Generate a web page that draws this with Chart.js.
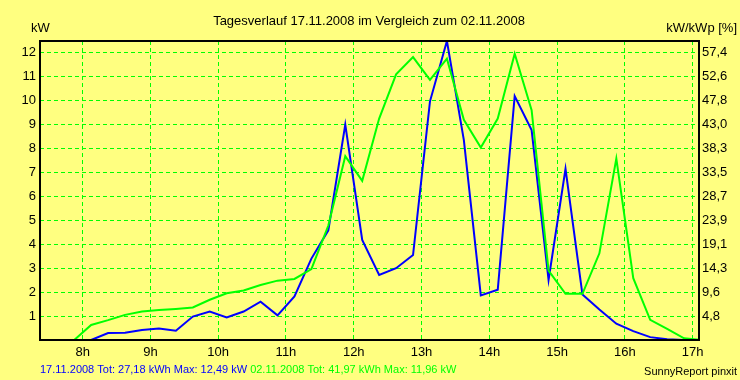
<!DOCTYPE html>
<html>
<head>
<meta charset="utf-8">
<script src="https://cdn.jsdelivr.net/npm/chart.js@4/dist/chart.umd.min.js"></script>
<style>
  html, body { margin: 0; padding: 0; background: #ffff80; }
  canvas { display: block; background: #ffff80; }
</style>
</head>
<body>
<canvas id="c" width="740" height="380"></canvas>
<script>
// ---- data ----
const hours = [7.375, 7.625, 7.875, 8.125, 8.375, 8.625, 8.875, 9.125, 9.375, 9.625,
               9.875, 10.125, 10.375, 10.625, 10.875, 11.125, 11.375, 11.625, 11.875, 12.125,
               12.375, 12.625, 12.875, 13.125, 13.375, 13.625, 13.875, 14.125, 14.375, 14.625,
               14.875, 15.125, 15.375, 15.625, 15.875, 16.125, 16.375, 16.625, 16.875, 17.125];
const kw_17_11 = [0, 0, 0, 0, 0.29, 0.30, 0.42, 0.48, 0.39, 0.98,
                  1.19, 0.94, 1.19, 1.60, 1.03, 1.82, 3.40, 4.58, 9.00, 4.18,
                  2.72, 3.00, 3.55, 9.97, 12.49, 8.35, 1.86, 2.10, 10.19, 8.77,
                  2.51, 7.15, 1.90, 1.27, 0.68, 0.37, 0.12, 0.03, 0, 0];
const kw_02_11 = [0, 0, 0, 0.63, 0.83, 1.05, 1.19, 1.25, 1.30, 1.36,
                  1.68, 1.95, 2.07, 2.30, 2.48, 2.55, 2.96, 4.78, 7.68, 6.65,
                  9.25, 11.10, 11.82, 10.87, 11.75, 9.20, 8.04, 9.25, 11.96, 9.60,
                  2.90, 1.93, 1.93, 3.62, 7.58, 2.58, 0.84, 0.46, 0.07, 0];
const xTickHours = [8, 9, 10, 11, 12, 13, 14, 15, 16, 17];
const leftTicks = [1, 2, 3, 4, 5, 6, 7, 8, 9, 10, 11, 12];
const rightTickLabels = ['4,8', '9,6', '14,3', '19,1', '23,9', '28,7', '33,5', '38,3', '43,0', '47,8', '52,6', '57,4'];
const titleText = 'Tagesverlauf 17.11.2008 im Vergleich zum 02.11.2008';
const leftUnit = 'kW';
const rightUnit = 'kW/kWp [%]';
const footerBlue = '17.11.2008 Tot: 27,18 kWh Max: 12,49 kW';
const footerGreen = '02.11.2008 Tot: 41,97 kWh Max: 11,96 kW';
const footerRight = 'SunnyReport pinxit';

const FONT = '"Liberation Sans", Arial, sans-serif';
const BLUE = '#0000ff';
const GREEN = '#00ff00';

const textPlugin = {
  id: 'texts',
  afterDraw(chart) {
    const { ctx, chartArea: a } = chart;
    ctx.save();
    ctx.strokeStyle = '#000';
    ctx.lineWidth = 2;
    ctx.strokeRect(a.left, a.top, a.right - a.left, a.bottom - a.top);
    ctx.font = '13px ' + FONT;
    ctx.textBaseline = 'alphabetic';
    ctx.fillStyle = '#000';
    ctx.textAlign = 'center';
    ctx.fillText(titleText, 369, 25);
    ctx.textAlign = 'left';
    ctx.fillText(leftUnit, 31, 32);
    ctx.textAlign = 'right';
    ctx.fillText(rightUnit, 737, 32);
    ctx.font = '11px ' + FONT;
    ctx.fillText(footerRight, 737, 375);
    ctx.textAlign = 'left';
    ctx.fillStyle = BLUE;
    ctx.fillText(footerBlue, 40, 373);
    const w = ctx.measureText(footerBlue + ' ').width;
    ctx.fillStyle = GREEN;
    ctx.fillText(footerGreen, 40 + w, 373);
    ctx.restore();
  }
};

const tickFont = { family: FONT, size: 13 };

new Chart(document.getElementById('c'), {
  type: 'line',
  data: {
    datasets: [
      {
        label: '17.11.2008',
        data: hours.map((h, i) => ({ x: h, y: kw_17_11[i] })),
        borderColor: BLUE,
        borderWidth: 2,
        pointRadius: 0,
        tension: 0,
        fill: false,
        order: 1,
        yAxisID: 'y'
      },
      {
        label: '02.11.2008',
        data: hours.map((h, i) => ({ x: h, y: kw_02_11[i] })),
        borderColor: GREEN,
        borderWidth: 2,
        pointRadius: 0,
        tension: 0,
        fill: false,
        order: 0,
        yAxisID: 'y'
      }
    ]
  },
  options: {
    responsive: false,
    devicePixelRatio: 1,
    animation: false,
    events: [],
    layout: { padding: { top: 41, left: 0, right: 0, bottom: 0 } },
    plugins: { legend: { display: false }, tooltip: { enabled: false }, title: { display: false } },
    scales: {
      x: {
        type: 'linear',
        position: 'bottom',
        min: 7.37,
        max: 17.095,
        afterBuildTicks: (s) => { s.ticks = xTickHours.map(v => ({ value: v })); },
        afterFit: (s) => { s.height = 40; },
        grid: { color: GREEN, lineWidth: 1, drawTicks: false },
        border: { display: false, dash: [4, 3] },
        ticks: { font: tickFont, color: '#000', padding: 5, maxRotation: 0, autoSkip: false,
                 callback: (v) => v + 'h' }
      },
      y: {
        type: 'linear',
        position: 'left',
        min: 0,
        max: 12.49,
        afterBuildTicks: (s) => { s.ticks = leftTicks.map(v => ({ value: v })); },
        afterFit: (s) => { s.width = 40; },
        grid: { color: GREEN, lineWidth: 1, drawTicks: false },
        border: { display: false, dash: [4, 3] },
        ticks: { font: tickFont, color: '#000', padding: 4, autoSkip: false,
                 callback: (v) => String(v) }
      },
      y2: {
        type: 'linear',
        position: 'right',
        min: 0,
        max: 12.49,
        afterBuildTicks: (s) => { s.ticks = leftTicks.map(v => ({ value: v })); },
        afterFit: (s) => { s.width = 41; },
        grid: { display: false, drawTicks: false },
        border: { display: false },
        ticks: { font: tickFont, color: '#000', padding: 3, autoSkip: false,
                 callback: (v, i) => rightTickLabels[i] }
      }
    }
  },
  plugins: [textPlugin]
});
</script>
</body>
</html>
